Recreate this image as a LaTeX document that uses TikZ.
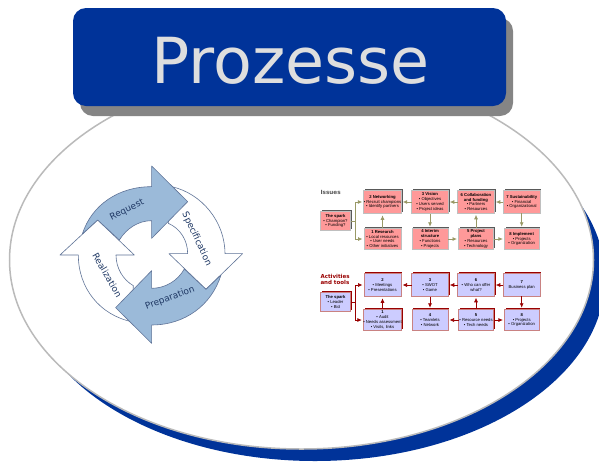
\documentclass[tikz,border=0pt]{standalone}
\usepackage{fontspec}
\setmainfont{DejaVu Sans}
\newfontfamily\minifont{Liberation Sans}
\usetikzlibrary{arrows.meta,shadows}
\definecolor{navy}{HTML}{003399}
\definecolor{cyclefill}{HTML}{9BBAD9}
\definecolor{cycleline}{HTML}{5F7397}
\definecolor{cycletext}{HTML}{1F3864}
\definecolor{redfill}{HTML}{FF9999}
\definecolor{violetfill}{HTML}{CCCCFF}
\definecolor{darkred}{HTML}{990000}
\definecolor{olive}{HTML}{999966}
\tikzset{
  every node/.style={inner sep=0pt,outer sep=0pt},
  whitearrow/.style={draw=cycleline,fill=white,line width=.6pt,line join=round},
  bluearrow/.style={draw=cycleline,fill=cyclefill,line width=.6pt,line join=round},
  cyclelabel/.style={text=cycletext,font=\fontsize{9}{10}\selectfont},
  basebox/.style={minimum width=#1,align=center,font=\minifont\fontsize{4.2}{4.9}\selectfont,text=black},
  issuebox/.style={basebox=#1,fill=redfill,draw=black!25,line width=.6pt,
     drop shadow={shadow xshift=1.3pt,shadow yshift=1.3pt,fill=black!65,opacity=1}},
  actbox/.style={basebox=#1,fill=violetfill,draw=red!40!gray!70,line width=.6pt,
     drop shadow={shadow xshift=1.3pt,shadow yshift=1.3pt,fill=darkred,opacity=1}},
  issueline/.style={draw=olive,line width=.8pt,shorten >=1.5pt,-{Latex[length=4.5pt,width=4pt]}},
  actline/.style={draw=darkred,line width=.7pt,shorten >=1.5pt,-{Latex[length=4.5pt,width=4pt]}},
  plainissue/.style={draw=olive,line width=.8pt},
  plainact/.style={draw=darkred,line width=.7pt},
}
\newcommand{\ttl}[1]{{\bfseries #1}}
\begin{document}
\begin{tikzpicture}[x=1pt,y=-1pt]
\useasboundingbox (0,0) rectangle (599,461);
\clip (0,0) rectangle (599,461);
% big ellipse and its crescent
\fill[navy] (315,278) ellipse [x radius=290,y radius=183];
\draw[draw=black!27,fill=white,line width=1.5pt] (301.5,260) ellipse [x radius=292,y radius=189];
% title
\fill[black!48,rounded corners=13pt] (80,18) rectangle (513,116);
\node[fill=navy,rounded corners=13pt,minimum width=433pt,minimum height=98pt,anchor=north west] (titlebox) at (73,8) {};
\node[text=black!13,font=\fontsize{63.5}{70}\selectfont,anchor=base] (title) at (290.5,83) {Prozesse};
% cycle
\begin{scope}[shift={(50,155)},x=.3333pt,y=-.3333pt]
\draw[whitearrow] (468,403) -- (578,296) -- (525,296)
   .. controls (525,200) and (455,115) .. (365,95)
   -- (355,205) .. controls (390,220) and (413,255) .. (413,296)
   -- (357,296) -- cycle;
\draw[whitearrow] (143,195) -- (253,300) -- (198,300)
   .. controls (198,340) and (220,375) .. (250,392)
   -- (245,500) .. controls (150,480) and (85,400) .. (85,300)
   -- (30,300) -- cycle;
\draw[bluearrow] (305,33) -- (413,140) -- (305,250) -- (305,197)
   .. controls (265,197) and (230,220) .. (208,255)
   -- (143,195) -- (97,237)
   .. controls (125,150) and (205,95) .. (305,95) -- cycle;
\draw[bluearrow] (197,458) -- (305,347) -- (305,400)
   .. controls (345,400) and (383,378) .. (403,342)
   -- (468,403) -- (513,360)
   .. controls (485,450) and (405,510) .. (305,510)
   -- (305,565) -- cycle;
\end{scope}
\node[cyclelabel,rotate=26] (request) at (127,210) {Request};
\node[cyclelabel,rotate=-65] (specification) at (196.7,239) {Specification};
\node[cyclelabel,rotate=21] (preparation) at (170,298) {Preparation};
\node[cyclelabel,rotate=-60] (realization) at (107.3,275) {Realization};
% Issues panel
\node[anchor=west,font=\bfseries\fontsize{5.7}{6}\selectfont,text=black!65] (issues) at (320.5,192.5) {Issues};
\node[issuebox=30.5pt,minimum height=18.5pt] (ispark) at (335.5,221) {\ttl{The spark}\\• Champion?\\• Funding?};
\node[issuebox=37pt,minimum height=23.5pt] (i2) at (382.5,202) {\ttl{2 Networking}\\• Recruit champions\\• Identify partners};
\node[issuebox=36.5pt,minimum height=23.5pt] (i3) at (430,202) {\ttl{3 Vision}\\• Objectives\\• Users served\\• Project ideas};
\node[issuebox=36.5pt,minimum height=22.5pt] (i6) at (476,202) {\ttl{6 Collaboration}\\\ttl{and funding}\\• Partners\\• Resources};
\node[issuebox=36.5pt,minimum height=22.5pt] (i7) at (521.7,202) {\ttl{7 Sustainability}\\• Financial\\• Organizational};
\node[issuebox=37pt,minimum height=21.5pt] (i1) at (382.5,239) {\ttl{1 Research}\\• Local resources\\• User needs\\• Other initiatives};
\node[issuebox=36pt,minimum height=21.5pt] (i4) at (430,239) {\ttl{4 Interim}\\\ttl{structure}\\• Functions\\• Projects};
\node[issuebox=35pt,minimum height=21.5pt] (i5) at (476,239) {\ttl{5 Project}\\\ttl{plans}\\• Resources\\• Technology};
\node[issuebox=34.5pt,minimum height=21.5pt] (i8) at (521.7,239) {\ttl{8 Implement}\\• Projects\\• Organization};
\coordinate (ij) at (355,221);
\draw[plainissue] (ispark.east) -- (ij);
\draw[issueline] (ij) |- (i2.west);
\draw[issueline] (ij) |- (i1.west);
\draw[issueline] (i1) -- (i2);
\draw[issueline] (i3) -- (i2);
\draw[issueline] (i3) -- (i4);
\draw[issueline] (i4) -- (i5);
\draw[issueline] (i5) -- (i6);
\draw[issueline] (i7) -- (i6);
\draw[issueline] (i6) -- (i3);
\draw[issueline] (i7) -- (i8);
\draw[issueline] (i5) -- (i8);
% Activities panel
\node[anchor=west,align=left,font=\bfseries\fontsize{5.5}{6.8}\selectfont,text=darkred] (acts) at (320.5,279.5) {Activities\\and tools};
\node[actbox=30.5pt,minimum height=18.5pt] (aspark) at (335.5,302) {\ttl{The spark}\\• Leader\\• Bid};
\node[actbox=37pt,minimum height=23.5pt] (a2) at (382.5,285) {\ttl{2}\\• Meetings\\• Presentations};
\node[actbox=36.5pt,minimum height=23.5pt] (a3) at (430,285) {\ttl{3}\\• SWOT\\• Game};
\node[actbox=36.5pt,minimum height=22.5pt] (a6) at (476,285) {\ttl{6}\\• Who can offer\\what?};
\node[actbox=36.5pt,minimum height=22.5pt] (a7) at (521.7,285) {\ttl{7}\\Business plan};
\node[actbox=37pt,minimum height=21.5pt] (a1) at (382.5,320) {\ttl{1}\\• Audit\\• Needs assessment\\• Visits, links};
\node[actbox=36pt,minimum height=21.5pt] (a4) at (430,320) {\ttl{4}\\• Teamlets\\• Network};
\node[actbox=35pt,minimum height=21.5pt] (a5) at (476,320) {\ttl{5}\\• Resource needs\\• Tech needs};
\node[actbox=34.5pt,minimum height=21.5pt] (a8) at (521.7,320) {\ttl{8}\\• Projects\\• Organization};
\coordinate (aj) at (355,302);
\draw[plainact] (aspark.east) -- (aj);
\draw[actline] (aj) |- (a2.west);
\draw[actline] (aj) |- (a1.west);
\draw[actline] (a1) -- (a2);
\draw[actline] (a3) -- (a2);
\draw[actline] (a3) -- (a4);
\draw[actline] (a5) -- (a4);
\draw[actline] (a5) -- (a6);
\draw[actline] (a7) -- (a6);
\draw[actline] (a6) -- (a3);
\draw[actline] (a7) -- (a8);
\draw[actline] (a5) -- (a8);
\end{tikzpicture}
\end{document}
